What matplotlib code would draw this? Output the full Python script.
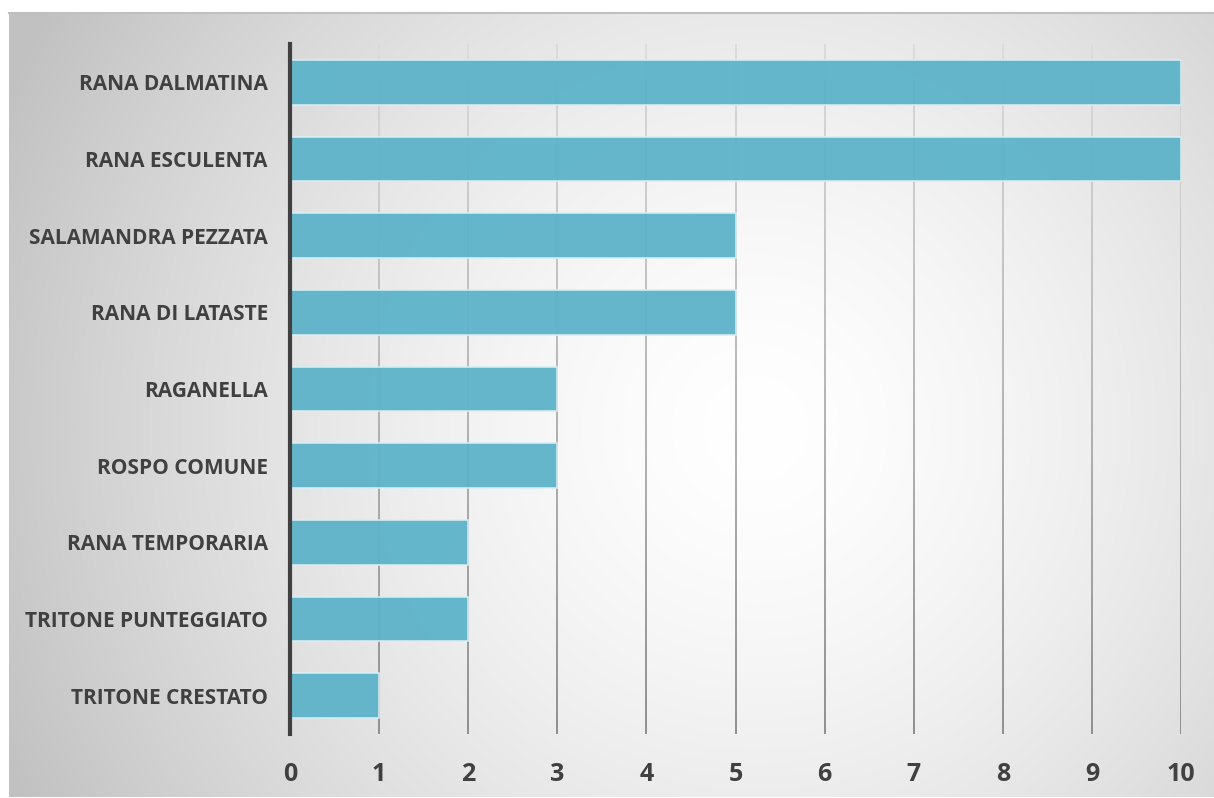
import numpy as np
import matplotlib
matplotlib.use("Agg")
import matplotlib.pyplot as plt
from matplotlib.collections import LineCollection

species = ["RANA DALMATINA", "RANA ESCULENTA", "SALAMANDRA PEZZATA", "RANA DI LATASTE",
           "RAGANELLA", "ROSPO COMUNE", "RANA TEMPORARIA", "TRITONE PUNTEGGIATO",
           "TRITONE CRESTATO"]
counts = [10, 10, 5, 5, 3, 3, 2, 2, 1]
x_ticks = list(range(0, 11))

W, H = 1214, 798
fig = plt.figure(figsize=(W / 100, H / 100), dpi=100)
fig.patch.set_facecolor("white")

# background panel with radial gradient
bx0, by0, bx1, by1 = 9 / W, 1 - 797 / H, 1.0, 1 - 13 / H
bg = fig.add_axes([bx0, by0, bx1 - bx0, by1 - by0])
bg.set_axis_off()
nx, ny = 600, 400
xx, yy = np.meshgrid(np.linspace(0, 1, nx), np.linspace(0, 1, ny))
cx, cy = 0.62, 0.47
r = np.sqrt(((xx - cx) * 1.0) ** 2 + ((yy - cy) * 0.65) ** 2)
r = np.clip(r / 0.68, 0, 1)
val = 1.0 - 0.24 * r ** 1.5
img = np.dstack([val, val, val])
bg.imshow(img, extent=[0, 1, 0, 1], aspect="auto", origin="lower")
bg.plot([0, 1], [1, 1], color="#c0c0c0", lw=1.5, transform=bg.transAxes, clip_on=False)

ax = fig.add_axes([290 / W, 1 - 734 / H, (1181 - 290) / W, (734 - 44) / H])
ax.set_facecolor("none")
ypos = np.arange(len(species))
ax.set_ylim(len(species) - 0.5, -0.5)
ax.set_xlim(0, 10)

# gridlines with vertical gradient (light at top, darker at bottom)
nseg = 60
ys = np.linspace(-0.5, len(species) - 0.5, nseg + 1)
segs, cols = [], []
for xv in x_ticks[1:]:
    for i in range(nseg):
        segs.append([(xv, ys[i]), (xv, ys[i + 1])])
        t = (i + 0.5) / nseg
        g = 0.86 - 0.30 * t
        cols.append((g, g, g))
ax.add_collection(LineCollection(segs, colors=cols, linewidths=1.4, zorder=1))

ax.barh(ypos, counts, height=0.58, color="#5db3c9", edgecolor="#d8eef3",
        linewidth=1.2, alpha=0.95, zorder=3)
ax.set_xticks(x_ticks)
ax.set_yticks(ypos)
ax.set_yticklabels(species)
ax.tick_params(length=0)
ax.tick_params(axis="y", pad=16)
ax.tick_params(axis="x", pad=20)
for lab in ax.get_yticklabels():
    lab.set_fontfamily("Open Sans")
    lab.set_fontweight("bold")
    lab.set_fontsize(15)
    lab.set_color("#404040")
for lab in ax.get_xticklabels():
    lab.set_fontfamily("Open Sans")
    lab.set_fontweight("bold")
    lab.set_fontsize(18)
    lab.set_color("#404040")
for s in ["top", "right", "bottom"]:
    ax.spines[s].set_visible(False)
ax.spines["left"].set_color("#404040")
ax.spines["left"].set_linewidth(3)
ax.spines["left"].set_zorder(4)

fig.savefig("out.png", dpi=100)
